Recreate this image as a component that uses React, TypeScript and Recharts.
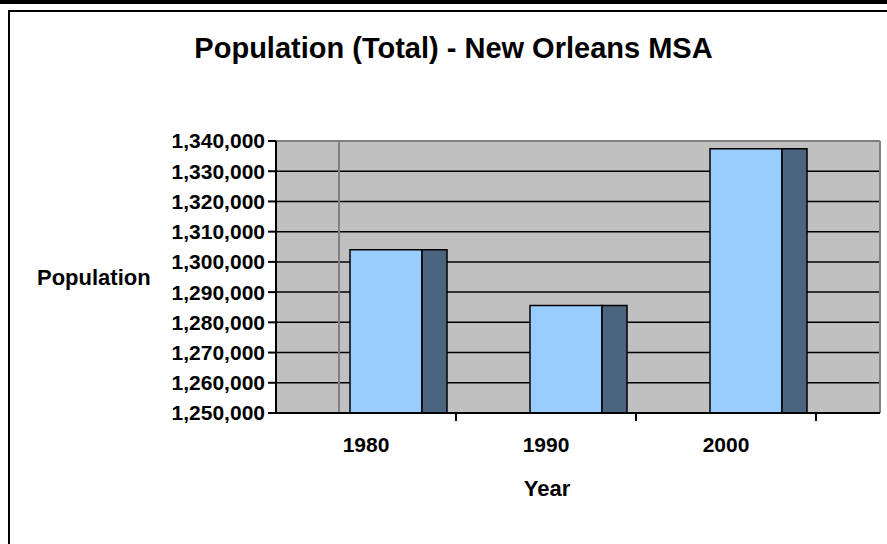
import { BarChart, Bar, XAxis, YAxis, CartesianGrid } from "recharts";

// values
const years = ["1980", "1990", "2000"];
const population = [1304000, 1285600, 1337400];
const yTicks = [
  1250000, 1260000, 1270000, 1280000, 1290000, 1300000, 1310000, 1320000,
  1330000, 1340000,
];

// the same value feeds the hidden wall spacer, the front face and the side face
const data = years.map((year, i) => ({
  year,
  wall: population[i],
  front: population[i],
  side: population[i],
}));

const FONT = "'Liberation Sans', Arial, sans-serif";
const DEPTH = 64; // depth of the excel pseudo-3d wall

function YearTick(props: any) {
  const { x, y, payload } = props;
  const half = payload.offset ?? 0;
  return (
    <g>
      <text
        x={x}
        y={y}
        dy="0.71em"
        textAnchor="middle"
        fontFamily={FONT}
        fontWeight="bold"
        fontSize={21}
        fill="#000"
      >
        {payload.value}
      </text>
      <line
        x1={x + half}
        x2={x + half}
        y1={y - 24}
        y2={y - 16}
        stroke="#000"
        strokeWidth={2}
      />
    </g>
  );
}

function App() {
  return (
    <div
      style={{
        position: "absolute",
        left: 0,
        top: 0,
        width: 887,
        height: 544,
        overflow: "hidden",
        background: "#fff",
        fontFamily: FONT,
      }}
    >
      <div
        style={{
          position: "absolute",
          left: 0,
          top: 0,
          width: 887,
          height: 4,
          background: "#000",
        }}
      />
      <div
        style={{
          position: "absolute",
          left: 8,
          top: 10,
          width: 900,
          height: 600,
          borderTop: "2px solid #000",
          borderLeft: "2px solid #000",
        }}
      />
      <div
        style={{
          position: "absolute",
          left: 0,
          top: 32,
          width: 907,
          textAlign: "center",
          fontSize: 29,
          fontWeight: "bold",
          color: "#000",
        }}
      >
        Population (Total) - New Orleans MSA
      </div>
      <div style={{ position: "absolute", left: 0, top: 0 }}>
        <BarChart
          width={887}
          height={544}
          data={data}
          margin={{ top: 141, right: 7, bottom: 91, left: 0 }}
          barGap={0}
        >
          <CartesianGrid
            vertical={false}
            fill="#C0C0C0"
            fillOpacity={1}
            stroke="#000"
            strokeWidth={1.5}
          />
          <CartesianGrid
            fill="none"
            stroke="#808080"
            strokeWidth={2}
            horizontalCoordinatesGenerator={({ offset }: any) => [offset.top]}
            verticalCoordinatesGenerator={({ offset }: any) => [
              offset.left + DEPTH - 1,
              offset.left + offset.width,
            ]}
          />
          <XAxis
            dataKey="year"
            height={40}
            padding={{ left: 0, right: DEPTH }}
            tickLine={false}
            tickSize={8}
            tickMargin={16}
            axisLine={{ stroke: "#000", strokeWidth: 2 }}
            tick={<YearTick />}
            label={{
              value: "Year",
              position: "bottom",
              offset: 27,
              dx: -31,
              fontFamily: FONT,
              fontWeight: "bold",
              fontSize: 22,
              fill: "#000",
            }}
          />
          <YAxis
            width={276}
            domain={[1250000, 1340000]}
            ticks={yTicks}
            interval={0}
            tickSize={8}
            tickMargin={3}
            tickLine={{ stroke: "#000", strokeWidth: 2 }}
            axisLine={{ stroke: "#000", strokeWidth: 2 }}
            tickFormatter={(v: number) => v.toLocaleString("en-US")}
            tick={{
              fontFamily: FONT,
              fontWeight: "bold",
              fontSize: 21,
              fill: "#000",
            }}
            label={{
              value: "Population",
              position: "insideLeft",
              offset: 37,
              fontFamily: FONT,
              fontWeight: "bold",
              fontSize: 22,
              fill: "#000",
            }}
          />
          {/* invisible spacer that pushes the columns back by the wall depth */}
          <Bar
            dataKey="wall"
            barSize={DEPTH}
            fill="none"
            stroke="none"
            isAnimationActive={false}
          />
          <Bar
            dataKey="front"
            barSize={72}
            fill="#99CCFF"
            stroke="#000"
            strokeWidth={1.5}
            isAnimationActive={false}
          />
          <Bar
            dataKey="side"
            barSize={25}
            fill="#4B6580"
            stroke="#000"
            strokeWidth={1.5}
            isAnimationActive={false}
          />
        </BarChart>
      </div>
    </div>
  );
}

export default App;
